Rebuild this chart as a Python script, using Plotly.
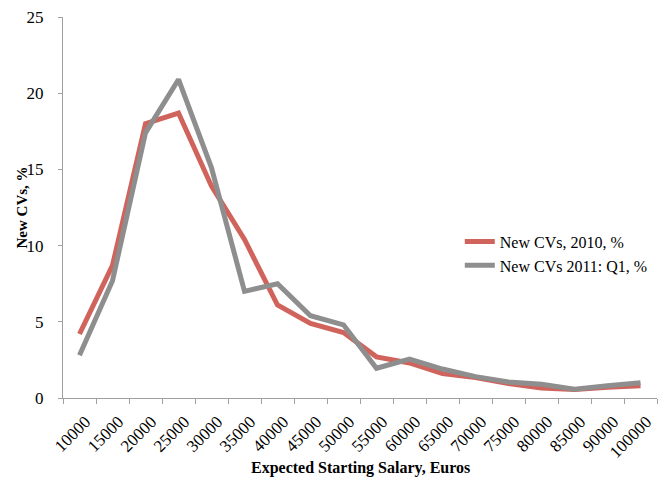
import plotly.graph_objects as go

categories = ["10000", "15000", "20000", "25000", "30000", "35000", "40000", "45000",
              "50000", "55000", "60000", "65000", "70000", "75000", "80000", "85000",
              "90000", "100000"]
cvs_2010 = [4.2, 8.7, 18.0, 18.7, 13.9, 10.4, 6.1, 4.9, 4.3, 2.7, 2.3, 1.6, 1.35, 0.95, 0.65, 0.55, 0.7, 0.8]
cvs_2011_q1 = [2.8, 7.7, 17.4, 20.9, 15.1, 7.0, 7.5, 5.4, 4.8, 1.95, 2.55, 1.9, 1.4, 1.05, 0.9, 0.57, 0.8, 1.0]

x_title = "Expected Starting Salary, Euros"
y_title = "New CVs, %"

font_family = "Liberation Serif, Times New Roman, serif"

fig = go.Figure()
fig.add_trace(go.Scatter(x=categories, y=cvs_2010, mode="lines", name="New CVs, 2010, %",
                         line=dict(color="#D0645C", width=5)))
fig.add_trace(go.Scatter(x=categories, y=cvs_2011_q1, mode="lines", name="New CVs 2011: Q1, %",
                         line=dict(color="#8E8E8E", width=5)))

fig.add_annotation(text="<b>" + x_title + "</b>", xref="paper", yref="paper",
                   x=0.5, y=-0.184, xanchor="center", yanchor="middle", showarrow=False,
                   font=dict(size=16, family=font_family, color="black"))
fig.add_annotation(text="<b>" + y_title + "</b>", xref="paper", yref="paper",
                   x=-0.0707, y=0.5, xanchor="center", yanchor="middle", showarrow=False,
                   textangle=-90, font=dict(size=15, family=font_family, color="black"))

fig.update_layout(
    width=659, height=482,
    margin=dict(l=63, r=2, t=17, b=84, autoexpand=False),
    plot_bgcolor="white", paper_bgcolor="white",
    font=dict(family=font_family, size=13, color="black"),
    showlegend=True,
    legend=dict(x=0.668, y=0.455, xanchor="left", yanchor="top",
                font=dict(size=16, family=font_family), bgcolor="rgba(0,0,0,0)",
                itemwidth=30, tracegroupgap=0),
    xaxis=dict(type="category", range=[-0.5, 17.5], tickangle=-45, showgrid=False, showline=True,
               linecolor="#A0A0A0", linewidth=1, ticks="outside", tickcolor="#A0A0A0",
               ticklen=5, tickson="boundaries", tickfont=dict(size=17), automargin=False,
               ticklabelshift=6, ticklabelstandoff=6),
    yaxis=dict(range=[0, 25], dtick=5, showgrid=False, showline=True, zeroline=False,
               linecolor="#A0A0A0", linewidth=1, ticks="outside", tickcolor="#A0A0A0",
               ticklen=4, tickfont=dict(size=17), ticklabelstandoff=11, automargin=False),
)

fig.write_html("out.html", config={"displayModeBar": False},
               post_script="document.body.style.margin='0';")
